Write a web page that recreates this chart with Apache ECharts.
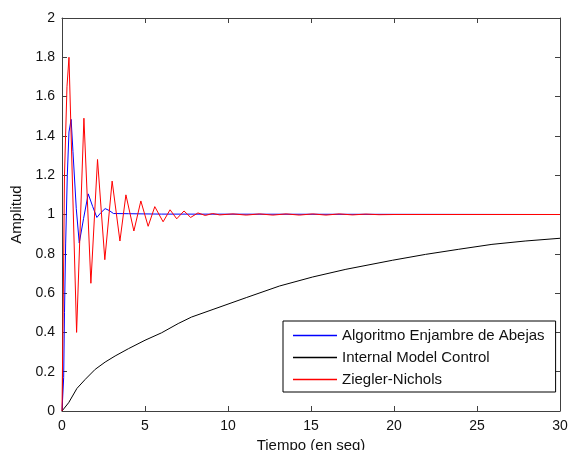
<!DOCTYPE html>
<html>
<head>
<meta charset="utf-8">
<script src="https://cdn.jsdelivr.net/npm/echarts@6/dist/echarts.min.js"></script>
<style>
  html, body { margin: 0; padding: 0; background: #ffffff; }
  #chart { width: 568px; height: 450px; }
</style>
</head>
<body>
<div id="chart"></div>
<script>
// Step responses of three PID tunings (time in seconds, amplitude)
const seriesNames = ['Algoritmo Enjambre de Abejas', 'Internal Model Control', 'Ziegler-Nichols'];

const abejasT = [0, 0.1, 0.15, 0.22, 0.32, 0.42, 0.55, 0.66, 0.86, 1.04, 1.3, 1.58, 1.85, 2.1, 2.35, 2.6, 2.85, 3.1, 4, 6, 30];
const abejasV = [0, 0.17, 0.5, 0.85, 1.2, 1.42, 1.484, 1.32, 1.03, 0.855, 0.98, 1.105, 1.04, 0.985, 1.01, 1.03, 1.02, 1.005, 1.004, 1.002, 1.0];

const imcT = [0, 0.1, 0.4, 0.9, 1.4, 2.0, 2.6, 3.2, 4.0, 5.0, 6.0, 7.0, 7.8, 9.1, 11.1, 13.1, 15.1, 17.1, 19.9, 21.9, 23.9, 25.9, 27.9, 30];
const imcV = [0, 0, 0.042, 0.115, 0.161, 0.212, 0.249, 0.28, 0.317, 0.36, 0.398, 0.445, 0.478, 0.517, 0.577, 0.636, 0.682, 0.721, 0.767, 0.797, 0.823, 0.848, 0.865, 0.879];

const zieglerT = [0, 0.08, 0.15, 0.3, 0.42, 0.88, 1.32, 1.74, 2.14, 2.58, 3.02, 3.49, 3.85, 4.33, 4.75, 5.19, 5.59, 6.09, 6.51, 6.91, 7.35, 7.75, 8.19, 8.63, 9.07, 9.5, 10.3, 11.1, 11.9, 12.7, 13.5, 14.3, 15.1, 15.9, 16.7, 17.5, 18.3, 19.1, 20, 30];
const zieglerV = [0, 0.6, 1.2, 1.65, 1.80, 0.40, 1.49, 0.65, 1.28, 0.77, 1.17, 0.865, 1.10, 0.916, 1.069, 0.94, 1.04, 0.963, 1.024, 0.978, 1.018, 0.985, 1.008, 0.995, 1.005, 0.998, 1.003, 0.997, 1.003, 0.997, 1.003, 0.997, 1.003, 0.997, 1.003, 0.998, 1.002, 0.999, 1.0, 1.0];

const seriesColors = ['#0000ff', '#000000', '#ff0000'];

function pairs(ts, vs) { return ts.map((t, i) => [t, vs[i]]); }

const axisColor = '#404040';
const fontFamily = 'Liberation Sans, Arial, sans-serif';
const labelFont = { fontFamily: fontFamily, fontSize: 14, color: '#111111' };

const chart = echarts.init(document.getElementById('chart'), null, { renderer: 'canvas' });

function boxAxis(extra) {
  return Object.assign({
    type: 'value',
    axisLine: { show: true, onZero: false, lineStyle: { color: axisColor, width: 1 } },
    axisTick: { show: true, inside: true, length: 5, lineStyle: { color: axisColor } },
    axisLabel: { show: false },
    splitLine: { show: false }
  }, extra);
}

chart.setOption({
  animation: false,
  backgroundColor: '#ffffff',
  grid: { left: 62, right: 8, top: 18, bottom: 39, outerBoundsMode: 'none' },
  xAxis: [
    boxAxis({
      min: 0, max: 30, interval: 5, position: 'bottom',
      axisLabel: Object.assign({ show: true, margin: 8 }, labelFont),
      name: 'Tiempo (en seg)', nameLocation: 'middle', nameGap: 26,
      nameTextStyle: { fontFamily: fontFamily, fontSize: 15, color: '#111111' }
    }),
    boxAxis({ min: 0, max: 30, interval: 5, position: 'top' })
  ],
  yAxis: [
    boxAxis({
      min: 0, max: 2, interval: 0.2, position: 'left',
      axisLabel: Object.assign({ show: true, margin: 7 }, labelFont),
      name: 'Amplitud', nameLocation: 'middle', nameGap: 34,
      nameTextStyle: { fontFamily: fontFamily, fontSize: 15, color: '#111111' }
    }),
    boxAxis({ min: 0, max: 2, interval: 0.2, position: 'right' })
  ],
  legend: {
    orient: 'vertical',
    left: 283, top: 321,
    padding: [7, 11, 5, 10],
    icon: 'rect',
    itemWidth: 44, itemHeight: 1.5, itemGap: 7,
    borderColor: '#000000', borderWidth: 1,
    backgroundColor: '#ffffff',
    textStyle: { fontFamily: fontFamily, fontSize: 15, lineHeight: 14, color: '#111111' },
    data: seriesNames
  },
  series: [
    { name: seriesNames[0], type: 'line', data: pairs(abejasT, abejasV) },
    { name: seriesNames[1], type: 'line', data: pairs(imcT, imcV) },
    { name: seriesNames[2], type: 'line', data: pairs(zieglerT, zieglerV) }
  ].map((s, i) => Object.assign(s, {
    xAxisIndex: 0, yAxisIndex: 0,
    showSymbol: false, symbol: 'none',
    color: seriesColors[i],
    itemStyle: { color: seriesColors[i] },
    lineStyle: { color: seriesColors[i], width: 1 }
  }))
});
</script>
</body>
</html>
